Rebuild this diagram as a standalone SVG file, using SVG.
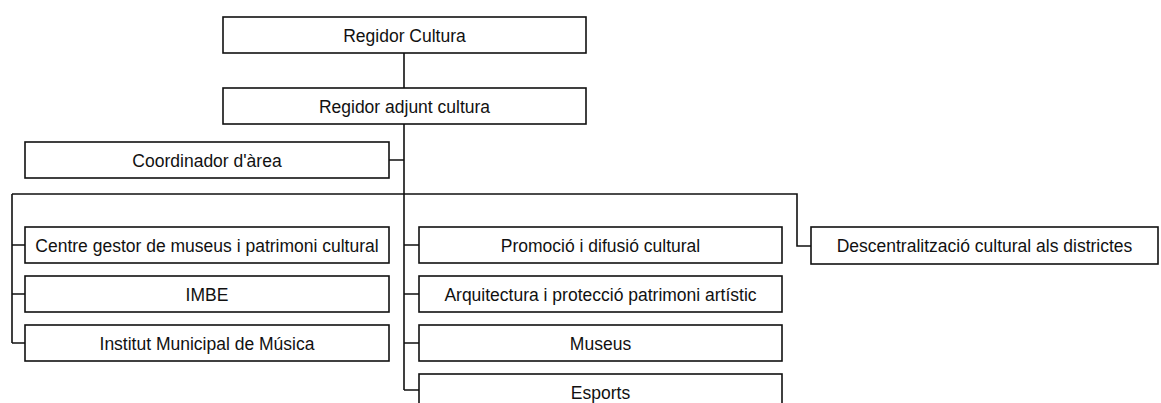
<svg xmlns="http://www.w3.org/2000/svg" width="1161" height="403" viewBox="0 0 1161 403">
<style>
.box{fill:#fff;stroke:#111;stroke-width:1.6}
.lbl{font-family:"Liberation Sans",Arial,sans-serif;font-size:17.5px;fill:#111;text-anchor:middle}
.ln{fill:none;stroke:#111;stroke-width:1.6}
</style>
<rect width="1161" height="403" fill="#fff"/>
<g id="connectors">
<path class="ln" d="M404 53V88M404 124V390M389 160H404M12 194H797V246H811M12 194V343M12 245H25M12 294H25M12 343H25M404 245H419M404 294H419M404 343H419M404 390H419"/>
</g>
<g id="regidor-cultura"><rect class="box" x="223" y="17" width="363" height="36"/><text class="lbl" x="404.5" y="42">Regidor Cultura</text></g>
<g id="regidor-adjunt"><rect class="box" x="223" y="88" width="363" height="36"/><text class="lbl" x="404.5" y="113">Regidor adjunt cultura</text></g>
<g id="coordinador"><rect class="box" x="25" y="142" width="364" height="36"/><text class="lbl" x="207" y="167">Coordinador d'àrea</text></g>
<g id="centre-gestor"><rect class="box" x="25" y="227" width="364" height="36"/><text class="lbl" x="207" y="252">Centre gestor de museus i patrimoni cultural</text></g>
<g id="imbe"><rect class="box" x="25" y="276" width="364" height="36"/><text class="lbl" x="207" y="301">IMBE</text></g>
<g id="institut-musica"><rect class="box" x="25" y="325" width="364" height="36"/><text class="lbl" x="207" y="350">Institut Municipal de Música</text></g>
<g id="promocio"><rect class="box" x="419" y="227" width="363" height="36"/><text class="lbl" x="600.5" y="252">Promoció i difusió cultural</text></g>
<g id="arquitectura"><rect class="box" x="419" y="276" width="363" height="36"/><text class="lbl" x="600.5" y="301">Arquitectura i protecció patrimoni artístic</text></g>
<g id="museus"><rect class="box" x="419" y="325" width="363" height="36"/><text class="lbl" x="600.5" y="350">Museus</text></g>
<g id="esports"><rect class="box" x="419" y="374" width="363" height="36"/><text class="lbl" x="600.5" y="399">Esports</text></g>
<g id="descentralitzacio"><rect class="box" x="811" y="227" width="347" height="37"/><text class="lbl" x="984.5" y="252">Descentralització cultural als districtes</text></g>
</svg>
